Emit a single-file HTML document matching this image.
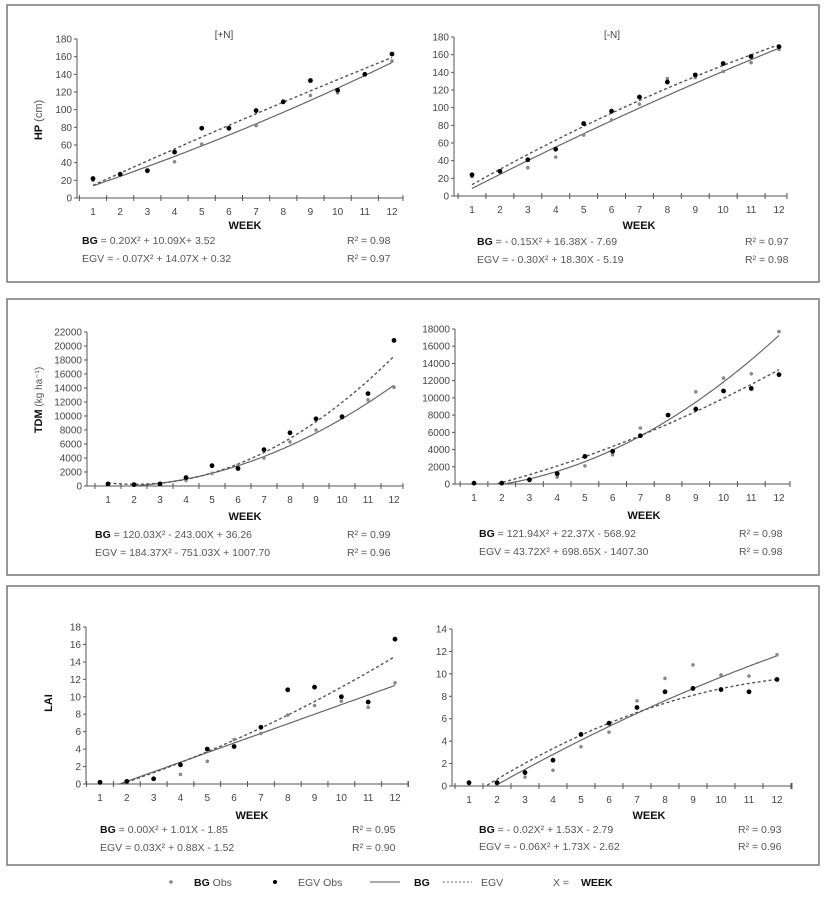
<!DOCTYPE html>
<html><head><meta charset="utf-8"><style>
html,body{margin:0;padding:0;background:#fff;}
svg{display:block;font-family:"Liberation Sans",Arial,sans-serif;}
.t{font-size:10px;fill:#444;}
.eq{font-size:10.5px;fill:#555;}
.b{font-weight:bold;fill:#111;}
</style></head><body>
<svg id="s" width="832" height="913" viewBox="0 0 832 913" xmlns="http://www.w3.org/2000/svg">
<rect x="0" y="0" width="832" height="913" fill="#fff"/>
<rect x="7" y="5" width="812" height="277" fill="none" stroke="#777" stroke-width="1.5"/>
<rect x="7" y="299" width="812" height="276" fill="none" stroke="#777" stroke-width="1.5"/>
<rect x="7" y="586" width="812" height="279" fill="none" stroke="#777" stroke-width="1.5"/>
<g id="g"></g>
<!-- titles -->
<text x="224" y="38" class="t" text-anchor="middle">[+N]</text>
<text x="612" y="38" class="t" text-anchor="middle">[-N]</text>
<text transform="translate(42,120) rotate(-90)" font-size="11" text-anchor="middle"><tspan font-weight="bold" fill="#111">HP</tspan><tspan fill="#555"> (cm)</tspan></text>
<text transform="translate(42,400) rotate(-90)" font-size="11" text-anchor="middle"><tspan font-weight="bold" fill="#111">TDM</tspan><tspan fill="#555" font-size="10"> (kg ha⁻¹)</tspan></text>
<text transform="translate(52,703) rotate(-90)" font-size="11" text-anchor="middle" font-weight="bold" fill="#111">LAI</text>
<!-- WEEK labels -->
<g font-size="11" font-weight="bold" fill="#111" text-anchor="middle">
<text x="245" y="229">WEEK</text><text x="639" y="229">WEEK</text>
<text x="245" y="520">WEEK</text><text x="644" y="519">WEEK</text>
<text x="252" y="819">WEEK</text><text x="649" y="819">WEEK</text>
</g>
<!-- equations -->
<g class="eq">
<text x="82" y="244"><tspan class="b">BG</tspan> = 0.20X² + 10.09X+ 3.52</text>
<text x="82" y="262">EGV = - 0.07X² + 14.07X + 0.32</text>
<text x="347" y="244">R² = 0.98</text><text x="347" y="262">R² = 0.97</text>
<text x="477" y="245"><tspan class="b">BG</tspan> = - 0.15X² + 16.38X - 7.69</text>
<text x="477" y="263">EGV = - 0.30X² + 18.30X - 5.19</text>
<text x="745" y="245">R² = 0.97</text><text x="745" y="263">R² = 0.98</text>
<text x="95" y="538"><tspan class="b">BG</tspan> = 120.03X² - 243.00X + 36.26</text>
<text x="95" y="556">EGV = 184.37X² - 751.03X + 1007.70</text>
<text x="347" y="538">R² = 0.99</text><text x="347" y="556">R² = 0.96</text>
<text x="479" y="537"><tspan class="b">BG</tspan> = 121.94X² + 22.37X - 568.92</text>
<text x="479" y="555">EGV = 43.72X² + 698.65X - 1407.30</text>
<text x="739" y="537">R² = 0.98</text><text x="739" y="555">R² = 0.98</text>
<text x="100" y="833"><tspan class="b">BG</tspan> = 0.00X² + 1.01X - 1.85</text>
<text x="100" y="851">EGV = 0.03X² + 0.88X - 1.52</text>
<text x="352" y="833">R² = 0.95</text><text x="352" y="851">R² = 0.90</text>
<text x="479" y="833"><tspan class="b">BG</tspan> = - 0.02X² + 1.53X - 2.79</text>
<text x="479" y="850">EGV = - 0.06X² + 1.73X - 2.62</text>
<text x="738" y="833">R² = 0.93</text><text x="738" y="850">R² = 0.96</text>
</g>
<!-- legend -->
<circle cx="171" cy="882" r="1.8" fill="#888"/>
<text x="194" y="886" class="eq"><tspan class="b">BG</tspan> Obs</text>
<circle cx="275" cy="882" r="2" fill="#000"/>
<text x="298" y="886" class="eq">EGV Obs</text>
<line x1="370" y1="882" x2="400" y2="882" stroke="#555" stroke-width="1"/>
<text x="414" y="886" class="eq"><tspan class="b">BG</tspan></text>
<line x1="443" y1="882" x2="472" y2="882" stroke="#666" stroke-width="1" stroke-dasharray="2,2"/>
<text x="481" y="886" class="eq">EGV</text>
<text x="553" y="886" class="eq">X =</text>
<text x="581" y="886" font-size="10.5" font-weight="bold" fill="#111">WEEK</text>
</svg>
<script>
var NS="http://www.w3.org/2000/svg",G=document.getElementById("g");
function el(n,a,txt){var e=document.createElementNS(NS,n);for(var k in a)e.setAttribute(k,a[k]);if(txt!=null)e.textContent=txt;G.appendChild(e);return e;}
function panel(p){
 var sx=(p.w12-p.w1)/11;
 function X(w){return p.w1+(w-1)*sx;}
 function Y(v){return p.y0-(v/p.ymax)*(p.y0-p.yt);}
 el("line",{x1:p.ax0,y1:p.y0,x2:p.ax1,y2:p.y0,stroke:"#555","stroke-width":1});
 el("line",{x1:p.ax0,y1:p.y0,x2:p.ax0,y2:p.yt,stroke:"#555","stroke-width":1});
 for(var v=0;v<=p.ymax+1e-9;v+=p.step){var y=Y(v);
  el("line",{x1:p.ax0-3,y1:y,x2:p.ax0,y2:y,stroke:"#555"});
  el("text",{x:p.ax0-5,y:y+3.5,"text-anchor":"end","class":"t"},String(v));}
 for(var w=0.5;w<=12.6;w+=1){var x=X(w);if(x>=p.ax0-1&&x<=p.ax1+1)el("line",{x1:x,y1:p.y0-3,x2:x,y2:p.y0+3,stroke:"#555"});}
 el("line",{x1:p.ax1,y1:p.y0-3,x2:p.ax1,y2:p.y0+3,stroke:"#555"});
 for(var w=1;w<=12;w++)el("text",{x:X(w),y:p.y0+17,"text-anchor":"middle","class":"t"},String(w));
 function curve(f,dash){var d="",st=false;for(var w=1;w<=12.001;w+=0.05){var v=f(w);if(v<0)continue;d+=(st?"L":"M")+X(w).toFixed(1)+","+Y(v).toFixed(1);st=true;}
  var a={d:d,fill:"none",stroke:dash?"#555":"#666","stroke-width":dash?1.4:1.2};if(dash)a["stroke-dasharray"]="3,2.5";el("path",a);}
 curve(p.bg,false);curve(p.egv,true);
 p.pb.forEach(function(v,i){el("circle",{cx:X(i+1),cy:Y(v),r:1.8,fill:"#888"});});
 p.pe.forEach(function(v,i){el("circle",{cx:X(i+1),cy:Y(v),r:2.4,fill:"#000"});});
}
panel({w1:93,w12:392,ax0:77,ax1:403,y0:198,yt:39,ymax:180,step:20,
 bg:function(x){return .2*x*x+10.09*x+3.52},egv:function(x){return -.07*x*x+14.07*x+.32},
 pb:[20,27,30,41,61,78,82,108,116,119,140,155],pe:[22,27,31,52,79,79,99,109,133,122,140,163]});
panel({w1:472,w12:779,ax0:454,ax1:787,y0:196,yt:37,ymax:180,step:20,
 bg:function(x){return -.15*x*x+16.38*x-7.69},egv:function(x){return -.3*x*x+18.3*x-5.19},
 pb:[22,28,32,44,69,86,104,133,134,141,151,166],pe:[24,28,41,53,82,96,112,129,137,150,158,169]});
panel({w1:108,w12:394,ax0:87,ax1:403,y0:486,yt:332,ymax:22000,step:2000,
 bg:function(x){return 120.03*x*x-243*x+36.26},egv:function(x){return 184.37*x*x-751.03*x+1007.7},
 pb:[200,100,200,800,1800,3000,4000,6300,8000,9700,12300,14100],pe:[300,200,300,1200,2900,2500,5200,7600,9600,9900,13200,20800]});
panel({w1:474,w12:779,ax0:455,ax1:790,y0:484,yt:329,ymax:18000,step:2000,
 bg:function(x){return 121.94*x*x+22.37*x-568.92},egv:function(x){return 43.72*x*x+698.65*x-1407.3},
 pb:[100,100,400,800,2100,3400,6500,8000,10700,12300,12800,17700],pe:[100,100,500,1200,3200,3800,5600,8000,8700,10800,11100,12700]});
panel({w1:100,w12:395,ax0:86,ax1:408,y0:784,yt:627,ymax:18,step:2,
 bg:function(x){return 1.1*x-1.9},egv:function(x){return .04*x*x+.88*x-1.7},
 pb:[0.1,0.2,0.6,1.1,2.6,5.1,5.8,7.9,9,9.5,8.8,11.6],pe:[0.2,0.3,0.6,2.2,4,4.3,6.5,10.8,11.1,10,9.4,16.6]});
panel({w1:469,w12:777,ax0:452,ax1:792,y0:786,yt:629,ymax:14,step:2,
 bg:function(x){return -.025*x*x+1.5*x-2.79},egv:function(x){return -.06*x*x+1.73*x-2.62},
 pb:[0.2,0.2,0.8,1.4,3.5,4.8,7.6,9.6,10.8,9.9,9.8,11.7],pe:[0.3,0.3,1.2,2.3,4.6,5.6,7,8.4,8.7,8.6,8.4,9.5]});
</script>
</body></html>
